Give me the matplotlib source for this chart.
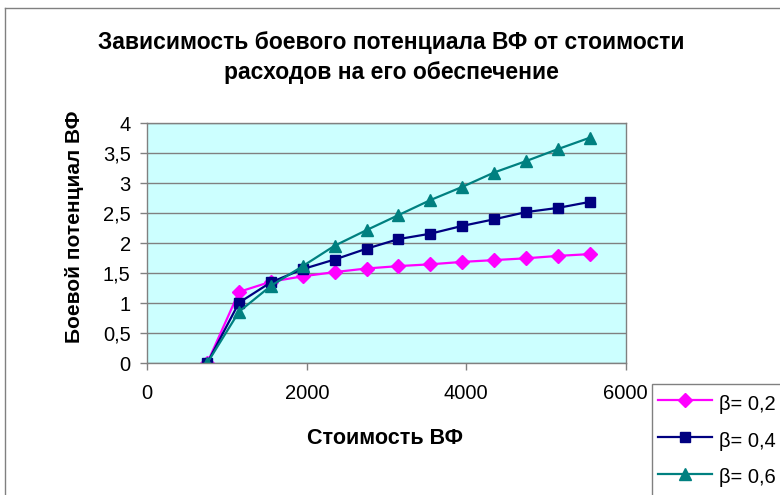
import matplotlib
matplotlib.use("Agg")
import matplotlib.pyplot as plt

plt.rcParams['font.family'] = ['Liberation Sans', 'DejaVu Sans']

cost = [750, 1150, 1550, 1950, 2350, 2750, 3150, 3550, 3950, 4350, 4750, 5150, 5550]
beta_02 = [0, 1.19, 1.36, 1.45, 1.52, 1.58, 1.62, 1.65, 1.69, 1.72, 1.75, 1.79, 1.82]
beta_04 = [0, 1.01, 1.35, 1.57, 1.73, 1.91, 2.07, 2.16, 2.29, 2.40, 2.52, 2.59, 2.69]
beta_06 = [0, 0.86, 1.29, 1.62, 1.96, 2.22, 2.47, 2.72, 2.94, 3.18, 3.37, 3.57, 3.76]
series_labels = ["β= 0,2", "β= 0,4", "β= 0,6"]
x_ticks = [0, 2000, 4000, 6000]
y_ticks = [0, 0.5, 1, 1.5, 2, 2.5, 3, 3.5, 4]
y_tick_labels = ["0", "0,5", "1", "1,5", "2", "2,5", "3", "3,5", "4"]

W, H = 780, 495
fig = plt.figure(figsize=(W / 100, H / 100), dpi=100)
fig.patch.set_facecolor('white')

# outer chart border (top and left visible)
fig.add_artist(plt.Line2D([5 / W, 1], [1 - 8 / H, 1 - 8 / H], color='#808080', lw=1))
fig.add_artist(plt.Line2D([5 / W, 5 / W], [0, 1 - 8 / H], color='#808080', lw=1))

left, right, top, bottom = 147.3, 625.7, 123.3, 363.3
ax = fig.add_axes([left / W, 1 - bottom / H, (right - left) / W, (bottom - top) / H])
ax.set_facecolor('#CCFFFF')
ax.set_xlim(0, 6000)
ax.set_ylim(0, 4)
ax.set_xticks(x_ticks)
ax.set_xticklabels([str(v) for v in x_ticks])
ax.set_yticks(y_ticks)
ax.set_yticklabels(y_tick_labels)
ax.yaxis.grid(True, color='#808080', lw=1)
ax.set_axisbelow(True)
for s in ax.spines.values():
    s.set_color('#808080')
    s.set_linewidth(1)
ax.tick_params(axis='both', colors='#808080', labelcolor='black', labelsize=14.5, length=5, width=1)
ax.tick_params(axis='x', pad=10)
ax.tick_params(axis='y', pad=7)

l1, = ax.plot(cost, beta_02, color='#FF00FF', lw=1.6, marker='D', markersize=7.5, label=series_labels[0])
l2, = ax.plot(cost, beta_04, color='#000080', lw=1.6, marker='s', markersize=7.5, label=series_labels[1])
l3, = ax.plot(cost, beta_06, color='#008080', lw=1.6, marker='^', markersize=9, label=series_labels[2])

fig.text(391 / W, 1 - 42 / H, "Зависимость боевого потенциала ВФ от стоимости",
         ha='center', va='center', fontsize=16.5, fontweight='bold')
fig.text(391 / W, 1 - 72 / H, "расходов на его обеспечение",
         ha='center', va='center', fontsize=16.5, fontweight='bold')
fig.text(385 / W, 1 - 438 / H, "Стоимость ВФ", ha='center', va='center',
         fontsize=15.5, fontweight='bold')
fig.text(75 / W, 1 - 227 / H, "Боевой потенциал ВФ", ha='center', va='center',
         rotation=90, fontsize=15, fontweight='bold')

leg = fig.legend(handles=[l1, l2, l3], loc='upper left',
                 bbox_to_anchor=(652 / W, 1 - 384 / H), fancybox=False,
                 edgecolor='#808080', framealpha=1, fontsize=14.5,
                 handlelength=2.7, handleheight=1.6, borderpad=0.3,
                 labelspacing=0.55, handletextpad=0.35, borderaxespad=0)
leg.get_frame().set_linewidth(1)

fig.savefig('out.png', dpi=100)
